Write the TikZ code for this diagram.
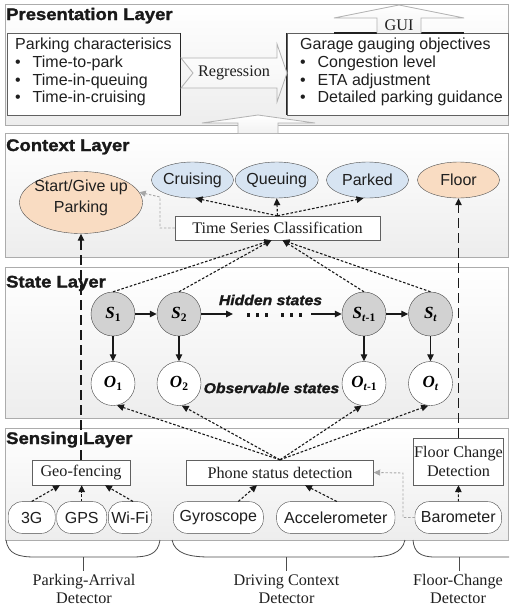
\documentclass[tikz,border=0pt]{standalone}
\usepackage{fontspec}
\setmainfont{Liberation Serif}
\setsansfont{Liberation Sans}
\newfontfamily\titlefont{Liberation Sans}[FakeStretch=1.1, BoldFeatures={FakeBold=1.5}, BoldItalicFeatures={FakeBold=1.5}]
\usetikzlibrary{arrows.meta,shapes.geometric}
\definecolor{peach}{RGB}{249,220,194}
\definecolor{lblue}{RGB}{215,228,242}
\newcommand\mybul{\makebox[17.5pt][l]{\textbullet}}
\newcommand\sv[2]{{\fontsize{17}{17}\selectfont\bfseries\itshape #1}\raisebox{-3pt}{\fontsize{11.5}{11.5}\selectfont\bfseries #2}}
\begin{document}
\begin{tikzpicture}[x=1pt,y=-1pt,
  layer/.style={draw=gray!65, top color=white, bottom color=gray!14},
  ttl/.style={anchor=base west, inner sep=0pt, text=black!90, font={\titlefont\fontsize{16.8}{18}\selectfont\bfseries}},
  hst/.style={inner sep=0pt, text=black!90, font={\titlefont\fontsize{14.3}{16}\selectfont\bfseries\itshape}},
  sanst/.style={font={\sffamily\fontsize{16}{17.7}\selectfont}, text=black!88},
  serift/.style={font={\rmfamily\fontsize{16.2}{18.3}\selectfont}, text=black!88},
  box/.style={draw=gray!75!black, fill=white, inner sep=0pt},
  ell/.style={ellipse, draw=gray!60!black, inner xsep=-15pt, inner ysep=0pt, sanst},
  oval/.style={draw=gray!60!black, fill=white, rounded corners=14pt, inner sep=0pt, minimum height=31.7pt, sanst},
  st/.style={circle, draw=gray!55!black, minimum size=44pt, inner sep=0pt, fill=gray!35},
  ob/.style={circle, draw=gray!55!black, minimum size=44pt, inner sep=0pt, fill=white},
  dsh/.style={dash pattern=on 2.6pt off 1.8pt, line width=1.1pt, black!90, -{Triangle[length=7pt,width=6.5pt]}},
  gdsh/.style={dash pattern=on 2.4pt off 1.8pt, line width=0.9pt, gray!70, -{Triangle[length=6.5pt,width=6pt]}},
  ldsh/.style={dash pattern=on 10pt off 5pt, line width=1.2pt, black!90, -{Triangle[length=7pt,width=6.5pt]}},
  sarr/.style={line width=1.1pt, black!90, -{Triangle[length=7pt,width=6.5pt]}},
  fatfill/.style={top color=white, bottom color=gray!10},
  fatline/.style={draw=gray!60, line width=0.8pt},
  brc/.style={draw=gray!60!black, line width=0.8pt}
]
\useasboundingbox (0,0) rectangle (509,608);

% ---------- layers
\draw[layer] (5,4) rectangle (508,125);
\draw[layer] (5,133) rectangle (508,257);
\draw[layer] (5,267) rectangle (508,418);
\draw[layer] (5,428) rectangle (508,540);

\node[ttl] (tpres) at (6,20) {Presentation Layer};
\node[ttl] (tctx) at (6,151) {Context Layer};
\node[ttl] (tstate) at (6,287.5) {State Layer};
\node[ttl] (tsens) at (6,444) {Sensing Layer};

% ---------- presentation layer
\node[box, minimum width=173pt, minimum height=82pt] (pcbox) at (93.5,74) {};
\draw[line width=1.3pt, gray!30!black] (pcbox.north east) -- (pcbox.south east);
\node[sanst, anchor=north west, align=left, inner sep=0pt] (pctext) at (15,38) {Parking characterisics\\\mybul Time-to-park\\\mybul Time-in-queuing\\\mybul Time-in-cruising};
\node[box, minimum width=221pt, minimum height=82pt] (gbox) at (397.5,74) {};
\draw[line width=1.3pt, gray!30!black] (gbox.north west) -- (gbox.south west);
\node[sanst, anchor=north west, align=left, inner sep=0pt] (gtext) at (300,38) {Garage gauging objectives\\\mybul Congestion level\\\mybul ETA adjustment\\\mybul Detailed parking guidance};

% regression arrow
\path[fatfill] (181,58) -- (277,58) -- (277,44) -- (287,73) -- (277,102) -- (277,88) -- (181,88) -- (193,73) -- cycle;
\draw[fatline] (181,58) -- (277,58) -- (277,44) -- (287,73) -- (277,102) -- (277,88) -- (181,88) -- (193,73) -- cycle;
\node[serift] (regr) at (234,73) {Regression};

% GUI arrow
\draw[line width=1.6pt, gray!25!black] (334,33) -- (377,33) (421,33) -- (464,33);
\path[fatfill] (377,33) -- (377,18) -- (334,18) -- (399,5) -- (464,18) -- (421,18) -- (421,33) -- cycle;
\draw[fatline] (377,33) -- (377,18) -- (334,18) -- (399,5) -- (464,18) -- (421,18) -- (421,33);
\node[serift] (gui) at (399,25) {GUI};

% up arrow between presentation and context
\path[fatfill] (238,133) -- (238,123) -- (202,123) -- (258,115) -- (315,123) -- (278,123) -- (278,133) -- cycle;
\draw[fatline] (238,133) -- (238,123) -- (202,123) -- (258,115) -- (315,123) -- (278,123) -- (278,133);

% ---------- context layer
\node[ell, fill=peach, minimum width=123pt, minimum height=62pt] (start) at (81,202.5) {};
\node[sanst, align=center, inner sep=0pt, font={\sffamily\fontsize{16}{21}\selectfont}] (starttxt) at (81,197.5) {Start/Give up\\Parking};
\node[ell, fill=lblue, minimum width=82pt, minimum height=36pt] (cru) at (192.5,180) {Cruising};
\node[ell, fill=lblue, minimum width=83pt, minimum height=36pt] (que) at (276.7,180) {Queuing};
\node[ell, fill=lblue, minimum width=82pt, minimum height=36pt] (par) at (367.5,180) {Parked};
\node[ell, fill=peach, minimum width=82pt, minimum height=36pt] (flo) at (458.5,180) {Floor};
\node[box, serift, minimum width=205pt, minimum height=24pt] (tsc) at (277.5,228) {Time Series Classification};

\draw[dsh] (tsc.north) -- ([xshift=3pt]cru.south);
\draw[dsh] (tsc.north) -- (que.south);
\draw[dsh] (tsc.north) -- ([xshift=-4pt]par.south);
\coordinate (g1) at (160,197);
\draw[gdsh] (tsc.west) -| (g1) -- (start.10);

% ---------- state layer
\node[st] (s1) at (113,314) {\sv{S}{1}};
\node[st] (s2) at (179,314) {\sv{S}{2}};
\node[st] (s3) at (364,314) {\sv{S}{\textit{t}-1}};
\node[st] (s4) at (430.5,314) {\sv{S}{\textit{t}}};
\node[ob] (o1) at (113,383.5) {\sv{O}{1}};
\node[ob] (o2) at (179,383.5) {\sv{O}{2}};
\node[ob] (o3) at (364,383.5) {\sv{O}{\textit{t}-1}};
\node[ob] (o4) at (430.5,383.5) {\sv{O}{\textit{t}}};

\coordinate (d1) at (233,314);
\coordinate (d2) at (311,314);
\draw[sarr] (s1) -- (s2);
\draw[sarr] (s2) -- (d1);
\draw[sarr] (d2) -- (s3);
\draw[sarr] (s3) -- (s4);
\draw[line width=3.2pt, dash pattern=on 3.2pt off 5.8pt, black!90] (247,315) -- (268,315);
\draw[line width=3.2pt, dash pattern=on 3.2pt off 5.8pt, black!90] (281,315) -- (302,315);
\draw[sarr] (s1) -- (o1);
\draw[sarr] (s2) -- (o2);
\draw[sarr] (s3) -- (o3);
\draw[sarr] (s4) -- (o4);

\node[hst] (hid) at (270.5,300) {Hidden states};
\node[hst] (obs) at (271.5,388) {Observable states};

\coordinate (tl) at ([xshift=-6pt]tsc.south);
\coordinate (tr) at ([xshift=5pt]tsc.south);
\draw[dsh] (s1.north) -- (tl);
\draw[dsh] (s2.north) -- (tl);
\draw[dsh] (s3.north) -- (tr);
\draw[dsh] (s4.north) -- (tr);

% ---------- sensing layer
\node[box, serift, minimum width=98pt, minimum height=25pt] (geo) at (81,472.5) {Geo-fencing};
\node[box, serift, minimum width=187pt, minimum height=25pt] (psd) at (280,472.5) {Phone status detection};
\node[box, serift, minimum width=90pt, minimum height=47pt, align=center] (fcd) at (458.5,461.5) {Floor Change\\Detection};

\node[oval, minimum width=47pt] (g3) at (31.7,517.5) {3G};
\node[oval, minimum width=50pt] (gps) at (81.7,517.5) {GPS};
\node[oval, minimum width=43.4pt] (wifi) at (130,517.5) {Wi-Fi};
\node[oval, minimum width=90pt] (gyro) at (218.3,517.5) {Gyroscope};
\node[oval, minimum width=118.3pt] (acc) at (335.8,517.5) {Accelerometer};
\node[oval, minimum width=86.7pt] (baro) at (458.3,517.5) {Barometer};

\draw[dsh] (g3.north) -- ([xshift=-21pt]geo.south);
\draw[dsh] (gps.north) -- ([xshift=0.7pt]geo.south);
\draw[dsh] ([xshift=3pt]wifi.north) -- ([xshift=24pt]geo.south);
\draw[dsh] ([xshift=20pt]gyro.north) -- ([xshift=-23pt]psd.south);
\draw[dsh] ([xshift=1pt]acc.north) -- ([xshift=25pt]psd.south);
\draw[dsh] (baro.north) -- (fcd.south);
\coordinate (g2) at (403,473);
\draw[gdsh] (baro.west) -| (g2) -- (psd.east);

\draw[dsh] (psd.north) -- (o1.-80);
\draw[dsh] (psd.north) -- (o2.-83);
\draw[dsh] (psd.north) -- (o3.-96);
\draw[dsh] (psd.north) -- (o4.-96);

% long dashed vertical connectors
\draw[ldsh] (geo.north) -- (start.south);
\draw[ldsh] (fcd.north) -- (flo.south);

% ---------- detector braces
\draw[brc] (6,540) .. controls (8,554) and (18,557) .. (35,557) -- (132,557) .. controls (149,557) and (158,554) .. (160,540);
\draw[brc] (83,557) -- (83,571);
\draw[brc] (172,540) .. controls (175,554) and (190,557) .. (210,557) -- (368,557) .. controls (388,557) and (402,554) .. (405,540);
\draw[brc] (286,557) -- (286,571);
\draw[brc] (413,540) .. controls (414,552) and (420,557) .. (435,557) -- (509,557);
\draw[brc] (459,557) -- (459,571);

\node[serift, align=center, font={\rmfamily\fontsize{16.2}{18}\selectfont}] (lpa) at (84,589) {Parking-Arrival\\Detector};
\node[serift, align=center, font={\rmfamily\fontsize{16.2}{18}\selectfont}] (ldc) at (286.5,589) {Driving Context\\Detector};
\node[serift, align=center, font={\rmfamily\fontsize{16.2}{18}\selectfont}] (lfc) at (458,589) {Floor-Change\\Detector};
\end{tikzpicture}
\end{document}
